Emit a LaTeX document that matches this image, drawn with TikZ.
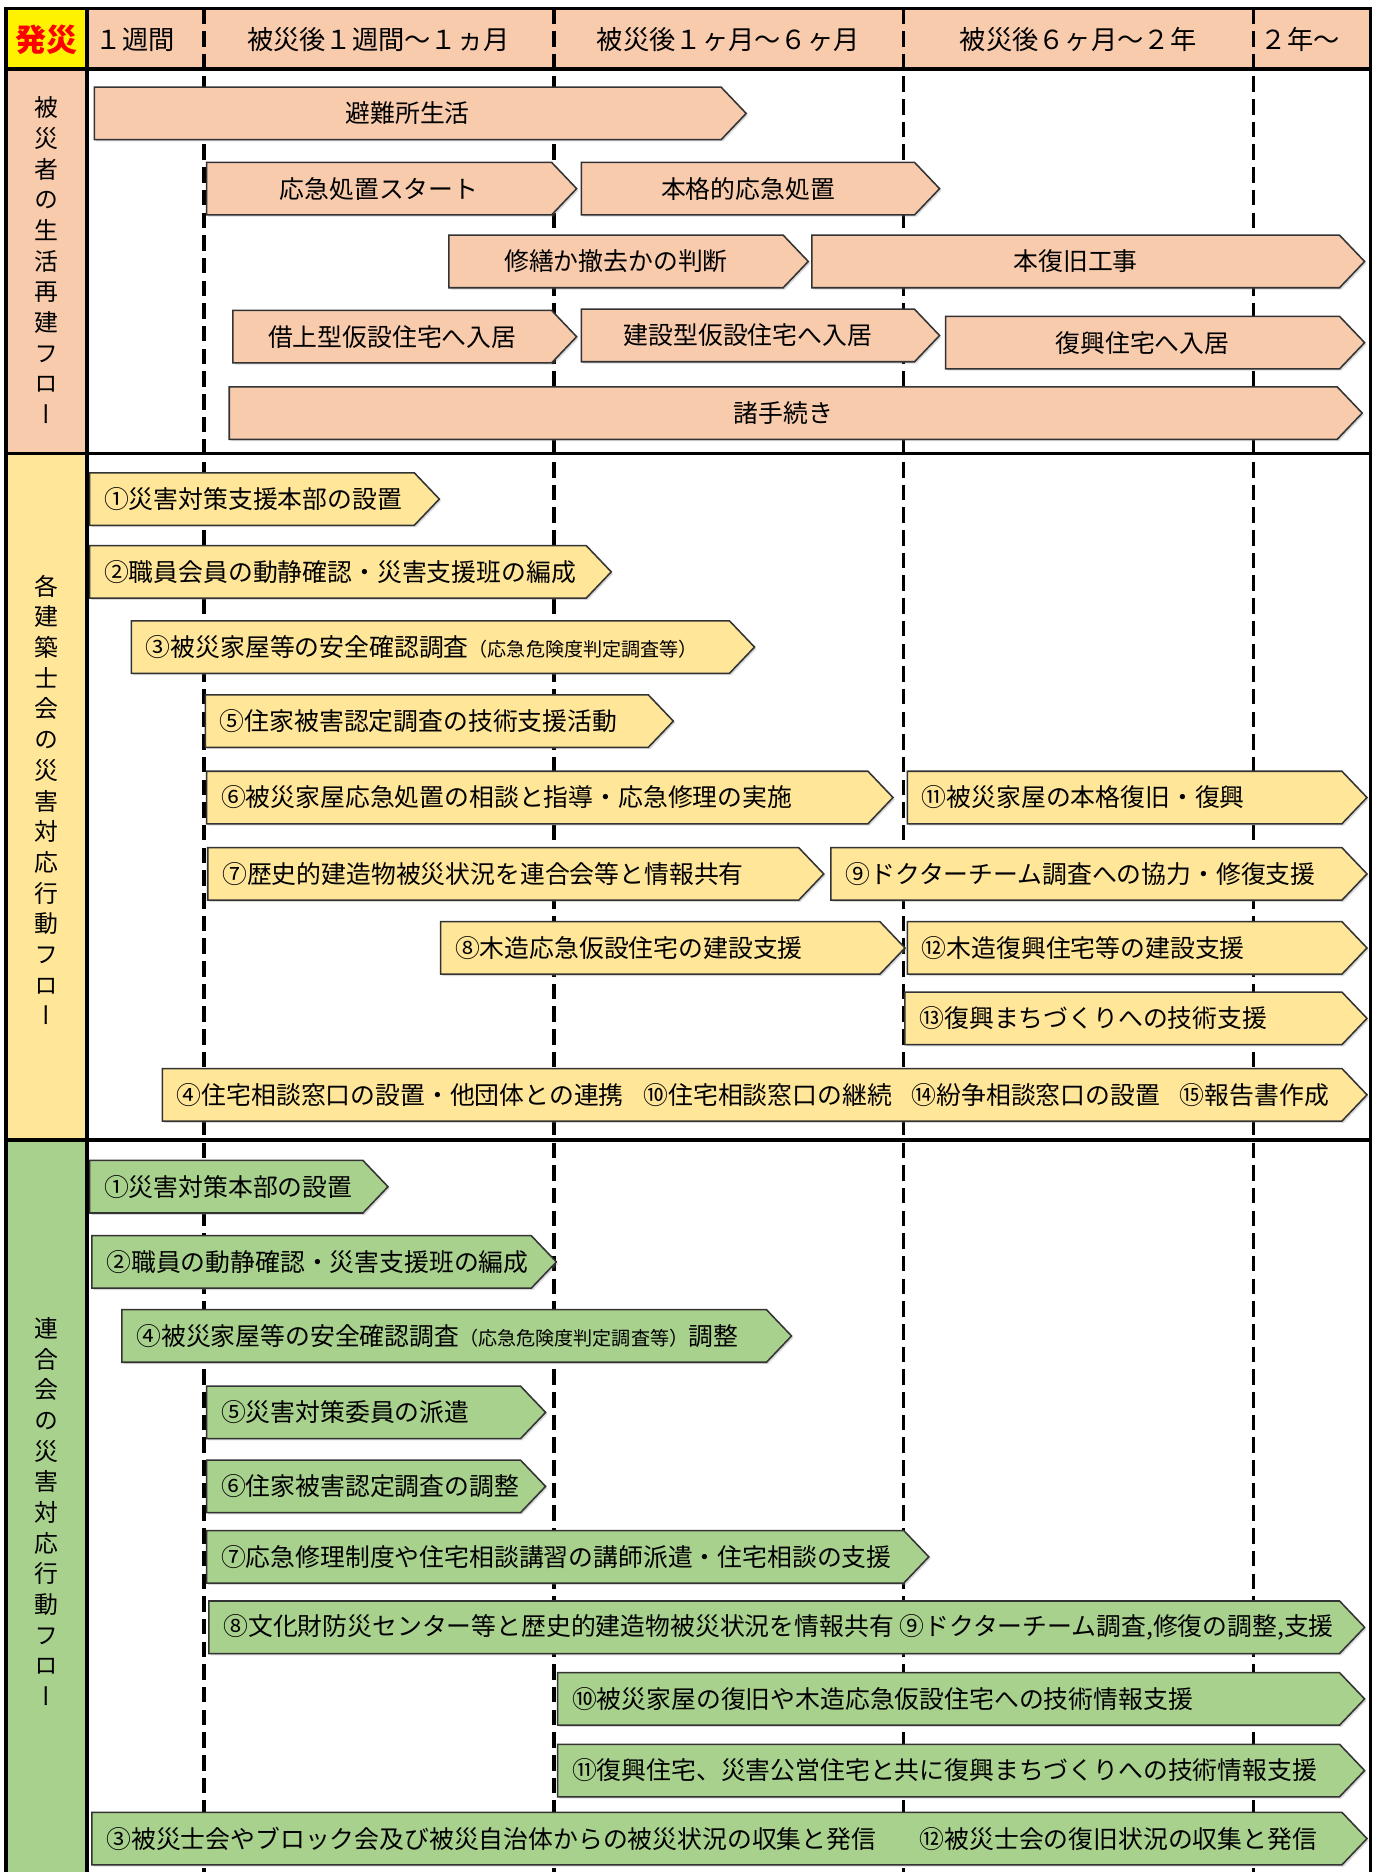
\documentclass[tikz,border=0pt]{standalone}
\usepackage{fontspec}
\setmainfont{Noto Sans CJK JP}
\newfontfamily\vertfont[RawFeature=+vert]{Noto Sans CJK JP}
\usepackage{tikz}
\usetikzlibrary{shadows}

\definecolor{lifefill}{HTML}{F8CBAD}
\definecolor{kaifill}{HTML}{FFE699}
\definecolor{rengofill}{HTML}{A9D18E}

% pointed bar, text from the left: name, style, left x, tip x, mid y, text
\newcommand{\flowbar}[6]{%
  \draw[#2] (#3,#5-22) -- (#4-21,#5-22) -- (#4,#5) -- (#4-21,#5+22) -- (#3,#5+22) -- cycle;
  \node[bartext, anchor=west] (#1) at (#3+12,#5) {#6};
}
% pointed bar, text centred
\newcommand{\lifebar}[6]{%
  \draw[#2] (#3,#5-22) -- (#4-21,#5-22) -- (#4,#5) -- (#4-21,#5+22) -- (#3,#5+22) -- cycle;
  \node[bartext] (#1) at ({(#3+#4-21)/2},#5) {#6};
}
\newcommand{\paren}[1]{{\fontsize{16}{18}\selectfont #1}}

\begin{document}
\begin{tikzpicture}[
    x=1pt, y=-1pt,
    bar/.style={draw=black!80, line width=1.3pt,
      drop shadow={shadow xshift=1.5pt, shadow yshift=-1.5pt, opacity=0.3}},
    life/.style={bar, fill=lifefill},
    kai/.style={bar, fill=kaifill},
    rengo/.style={bar, fill=rengofill},
    bartext/.style={font=\fontsize{20.8}{24}\selectfont, inner sep=0pt},
    head/.style={font=\fontsize{22}{26}\selectfont, inner sep=0pt},
    sidelabel/.style={font=\vertfont\fontsize{20}{25.7}\selectfont, align=center, inner sep=0pt},
    period/.style={dash pattern=on 13pt off 6pt, line width=2.8pt},
    frame/.style={line width=3pt}
  ]
  \useasboundingbox (0,0) rectangle (1154,1568);

  % backgrounds
  \fill[yellow] (5,7) rectangle (73,58);
  \fill[lifefill] (73,7) rectangle (1148,58);
  \fill[lifefill] (5,58) rectangle (73,380);
  \fill[kaifill] (5,380) rectangle (73,955);
  \fill[rengofill] (5,955) rectangle (73,1575);

  % period borders
  \foreach \x in {171,464,757,1050}
    \draw[period] (\x,7) -- (\x,1575);

  % header
  \node[head, font=\fontsize{26}{30}\selectfont\bfseries, text=red] (hassai) at (39,33) {発災};
  \node[head, anchor=west] (p1) at (80,33) {１週間};
  \node[head] (p2) at (317,33) {被災後１週間～１ヵ月};
  \node[head] (p3) at (610,33) {被災後１ヶ月～６ヶ月};
  \node[head] (p4) at (903,33) {被災後６ヶ月～２年};
  \node[head, anchor=west] (p5) at (1056,33) {２年～};

  % side labels
  \node[sidelabel] (lifelabel) at (39,218) {被\\災\\者\\の\\生\\活\\再\\建\\フ\\ロ\\ー};
  \node[sidelabel] (kailabel) at (39,670) {各\\建\\築\\士\\会\\の\\災\\害\\対\\応\\行\\動\\フ\\ロ\\ー};
  \node[sidelabel] (rengolabel) at (39,1266) {連\\合\\会\\の\\災\\害\\対\\応\\行\\動\\フ\\ロ\\ー};

  % victims
  \lifebar{hinan}{life}{79}{625}{95}{避難所生活}
  \lifebar{okyu}{life}{173}{483}{158}{応急処置スタート}
  \lifebar{honkaku}{life}{487}{787}{158}{本格的応急処置}
  \lifebar{shuzen}{life}{376}{677}{219}{修繕か撤去かの判断}
  \lifebar{honfukkyu}{life}{680}{1143}{219}{本復旧工事}
  \lifebar{kariage}{life}{195}{483}{282}{借上型仮設住宅へ入居}
  \lifebar{kensetsu}{life}{487}{787}{281}{建設型仮設住宅へ入居}
  \lifebar{fukko}{life}{792}{1143}{287}{復興住宅へ入居}
  \lifebar{tetsuzuki}{life}{192}{1141}{346}{諸手続き}

  % each society
  \flowbar{kai1}{kai}{75}{368}{418}{①災害対策支援本部の設置}
  \flowbar{kai2}{kai}{75}{512}{479}{②職員会員の動静確認・災害支援班の編成}
  \flowbar{kai3}{kai}{110}{632}{542}{③被災家屋等の安全確認調査\paren{（応急危険度判定調査等）}}
  \flowbar{kai5}{kai}{172}{564}{604}{⑤住家被害認定調査の技術支援活動}
  \flowbar{kai6}{kai}{173}{748}{668}{⑥被災家屋応急処置の相談と指導・応急修理の実施}
  \flowbar{kai11}{kai}{760}{1145}{668}{⑪被災家屋の本格復旧・復興}
  \flowbar{kai7}{kai}{174}{690}{732}{⑦歴史的建造物被災状況を連合会等と情報共有}
  \flowbar{kai9}{kai}{696}{1145}{732}{⑨ドクターチーム調査への協力・修復支援}
  \flowbar{kai8}{kai}{369}{758}{794}{⑧木造応急仮設住宅の建設支援}
  \flowbar{kai12}{kai}{760}{1145}{794}{⑫木造復興住宅等の建設支援}
  \flowbar{kai13}{kai}{758}{1145}{853}{⑬復興まちづくりへの技術支援}
  \flowbar{kai4}{kai}{136}{1145}{917}{④住宅相談窓口の設置・他団体との連携\hspace{0.8em}⑩住宅相談窓口の継続\hspace{0.8em}⑭紛争相談窓口の設置\hspace{0.8em}⑮報告書作成}

  % federation
  \flowbar{rengo1}{rengo}{75}{325}{994}{①災害対策本部の設置}
  \flowbar{rengo2}{rengo}{77}{466}{1057}{②職員の動静確認・災害支援班の編成}
  \flowbar{rengo4}{rengo}{102}{663}{1119}{④被災家屋等の安全確認調査\paren{（応急危険度判定調査等）}調整}
  \flowbar{rengo5}{rengo}{173}{457}{1183}{⑤災害対策委員の派遣}
  \flowbar{rengo6}{rengo}{173}{457}{1245}{⑥住家被害認定調査の調整}
  \flowbar{rengo7}{rengo}{173}{778}{1304}{⑦応急修理制度や住宅相談講習の講師派遣・住宅相談の支援}
  \flowbar{rengo8}{rengo}{175}{1143}{1363}{⑧文化財防災センター等と歴史的建造物被災状況を情報共有 ⑨ドクターチーム調査,修復の調整,支援}
  \flowbar{rengo10}{rengo}{467}{1143}{1423}{⑩被災家屋の復旧や木造応急仮設住宅への技術情報支援}
  \flowbar{rengo11}{rengo}{467}{1143}{1483}{⑪復興住宅、災害公営住宅と共に復興まちづくりへの技術情報支援}
  \flowbar{rengo3}{rengo}{77}{1145}{1540}{③被災士会やブロック会及び被災自治体からの被災状況の収集と発信\hspace{1.75em}⑫被災士会の復旧状況の収集と発信}

  % frame
  \draw[frame] (5,1575) -- (5,7) -- (1148,7) -- (1148,1575);
  \draw[frame] (73,7) -- (73,1575);
  \foreach \y in {58,380,955}
    \draw[frame] (5,\y) -- (1148,\y);
\end{tikzpicture}
\end{document}
